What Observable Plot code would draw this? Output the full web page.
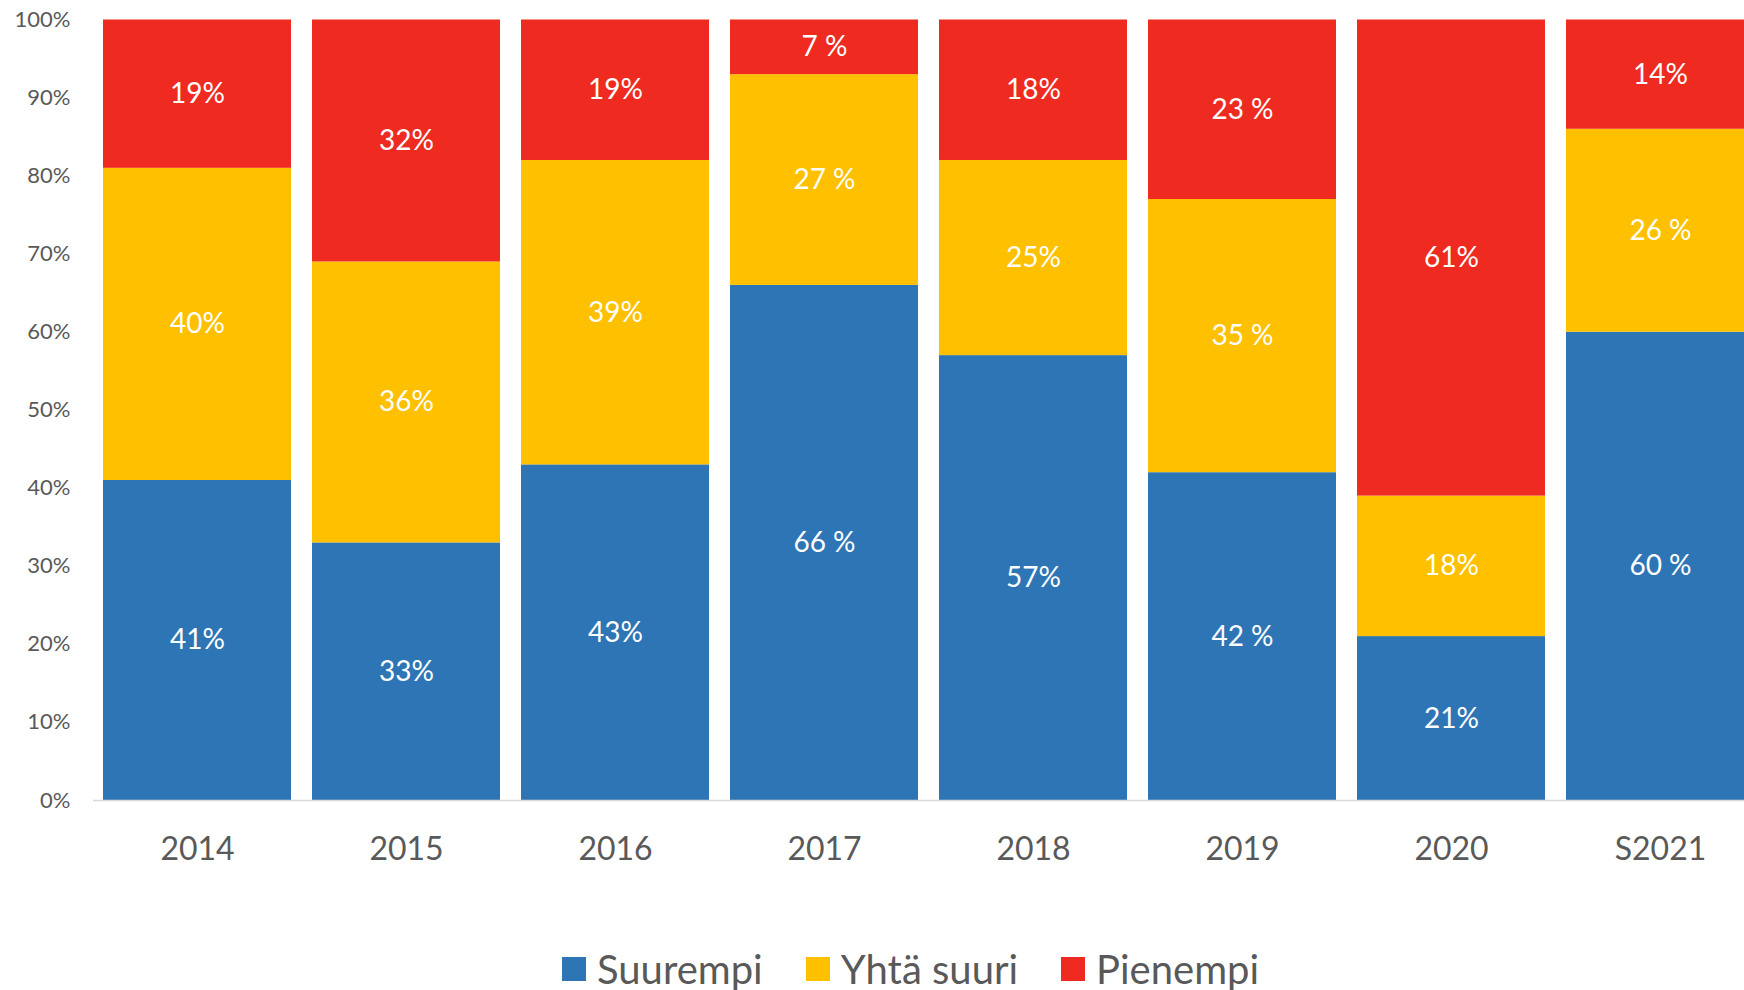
<!DOCTYPE html>
<html>
<head>
<meta charset="utf-8">
<script src="https://cdn.jsdelivr.net/npm/d3@7"></script>
<script src="https://cdn.jsdelivr.net/npm/@observablehq/plot@0.6"></script>
<style>
  html, body { margin: 0; padding: 0; background: #fff; overflow: hidden; }
  #chart svg { display: block; overflow: hidden; }
  #legend { display: flex; align-items: center; height: 78px; padding-left: 562px;
            font-family: Lato, "Open Sans", sans-serif; font-size: 40px; color: #595959; }
  .item { display: flex; align-items: center; margin-right: 43px; }
  .sw { width: 24px; height: 24px; margin-right: 11px; }
</style>
</head>
<body>
<div id="chart"></div>
<div id="legend"></div>
<script>
const years = ["2014", "2015", "2016", "2017", "2018", "2019", "2020", "S2021"];
const seriesNames = ["Suurempi", "Yhtä suuri", "Pienempi"];
const colors = ["#2E75B6", "#FFC000", "#EE2A21"];
// segment heights (percent)
const suurempi = [41, 33, 43, 66, 57, 42, 21, 60];
const yhtaSuuri = [40, 36, 39, 27, 25, 35, 18, 26];
const pienempi = [19, 31, 18, 7, 18, 23, 61, 14];
// data labels as printed
const suurempiLabels = ["41%", "33%", "43%", "66 %", "57%", "42 %", "21%", "60 %"];
const yhtaSuuriLabels = ["40%", "36%", "39%", "27 %", "25%", "35 %", "18%", "26 %"];
const pienempiLabels = ["19%", "32%", "19%", "7 %", "18%", "23 %", "61%", "14%"];
const yTicks = [0, 10, 20, 30, 40, 50, 60, 70, 80, 90, 100];

const valueSets = [suurempi, yhtaSuuri, pienempi];
const labelSets = [suurempiLabels, yhtaSuuriLabels, pienempiLabels];
const data = [];
seriesNames.forEach((s, si) => {
  years.forEach((y, i) => {
    data.push({year: y, series: s, value: valueSets[si][i], label: labelSets[si][i]});
  });
});

const W = 1744, H = 930;
const chart = Plot.plot({
  width: W,
  height: H,
  marginTop: 19.5,
  marginBottom: 130,
  marginLeft: 93,
  marginRight: 0,
  style: {fontFamily: "Lato, 'Open Sans', sans-serif", color: "#595959", background: "#fff"},
  x: {domain: years, range: [92.55, 1764.55], paddingInner: 0.1, paddingOuter: 0.05, axis: null},
  y: {domain: [0, 100], range: [800, 19.5], axis: null, label: null},
  color: {domain: seriesNames, range: colors},
  marks: [
    Plot.barY(data, {x: "year", y: "value", fill: "series", z: "series"}),
    Plot.ruleY([0], {stroke: "#d9d9d9", strokeWidth: 1.5}),
    Plot.text(data, Plot.stackY({x: "year", y: "value", z: "series", text: "label",
      fill: "white", fontSize: 28})),
    Plot.axisY({ticks: yTicks, tickSize: 0, tickPadding: 23, tickFormat: d => d + "%",
      fontSize: 22, fill: "#595959", label: null}),
    Plot.text(years, {x: d => d, text: d => d, frameAnchor: "bottom", dy: 49.5,
      lineAnchor: "middle", fontSize: 32, fill: "#595959"})
  ]
});
document.getElementById("chart").appendChild(chart);

const legend = document.getElementById("legend");
seriesNames.forEach((s, i) => {
  const item = document.createElement("div");
  item.className = "item";
  const sw = document.createElement("div");
  sw.className = "sw";
  sw.style.background = colors[i];
  const t = document.createElement("span");
  t.textContent = s;
  item.appendChild(sw);
  item.appendChild(t);
  legend.appendChild(item);
});
</script>
</body>
</html>
